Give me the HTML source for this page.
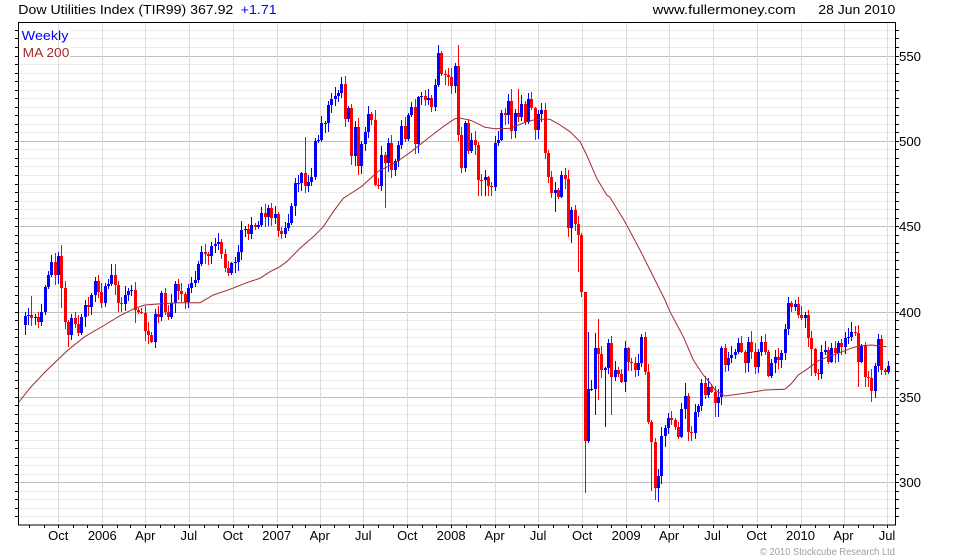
<!DOCTYPE html>
<html><head><meta charset="utf-8"><style>
html,body{margin:0;padding:0;background:#fff;}
svg{display:block;font-family:"Liberation Sans",Arial,sans-serif;}
</style></head><body>
<svg id="c" width="980" height="560" viewBox="0 0 980 560" xmlns="http://www.w3.org/2000/svg">
<rect x="0" y="0" width="980" height="560" fill="#fff"/>
<g id="hg" shape-rendering="crispEdges"></g>
<rect x="19" y="23" width="51" height="37" fill="#fff"/>
<g id="vg" shape-rendering="crispEdges"></g>
<g id="cd" shape-rendering="crispEdges"></g>
<polyline id="ma" fill="none" stroke="#a52a2a" stroke-width="1" points=""/>
<g id="ax" shape-rendering="crispEdges"></g>
<rect x="18.5" y="22.5" width="877" height="502.5" fill="none" stroke="#000" stroke-width="1" shape-rendering="crispEdges"/>
<text x="18.3" y="14" font-size="13" fill="#000" textLength="215" lengthAdjust="spacingAndGlyphs">Dow Utilities Index (TIR99) 367.92</text>
<text x="240.7" y="14" font-size="13" fill="#0000ff" textLength="36" lengthAdjust="spacingAndGlyphs">+1.71</text>
<text x="652.7" y="14" font-size="13" fill="#000" textLength="143" lengthAdjust="spacingAndGlyphs">www.fullermoney.com</text>
<text x="818.3" y="14" font-size="13" fill="#000" textLength="77" lengthAdjust="spacingAndGlyphs">28 Jun 2010</text>
<text x="21.7" y="40" font-size="13" fill="#0000ff" textLength="46.7" lengthAdjust="spacingAndGlyphs">Weekly</text>
<text x="22.7" y="57" font-size="13" fill="#a52a2a" textLength="46.7" lengthAdjust="spacingAndGlyphs">MA 200</text>
<text x="760" y="555" font-size="10" fill="#a0a0a0" textLength="135" lengthAdjust="spacingAndGlyphs">© 2010 Stockcube Research Ltd</text>
<g id="lb" font-size="13" fill="#000"></g>
</svg>
<script>
(function(){
var NS="http://www.w3.org/2000/svg";
function el(t,a,p){var e=document.createElementNS(NS,t);for(var k in a)e.setAttribute(k,a[k]);p.appendChild(e);return e;}
var hg=document.getElementById('hg'),vg=document.getElementById('vg'),cd=document.getElementById('cd'),ax=document.getElementById('ax'),lb=document.getElementById('lb');
function yg(p){return 55.5+(550-p)*1.7072;}
for(var p=275;p<=565;p+=5){
  var y=Math.round(yg(p))+0.5;
  if(y<23||y>524)continue;
  var major=(p%50===0);
  el('line',{x1:19,x2:896,y1:y,y2:y,stroke:major?'#c0c0c0':'#ebebeb','stroke-width':1},hg);
  el('line',{x1:15,x2:18,y1:y,y2:y,stroke:'#000','stroke-width':1},ax);
  el('line',{x1:896,x2:899,y1:y,y2:y,stroke:'#000','stroke-width':1},ax);
  if(major){var t=el('text',{x:899,y:Math.round(yg(p))+5,textLength:22,lengthAdjust:'spacingAndGlyphs'},lb);t.textContent=String(p);}
}
var qx=[58.3,102.3,145.3,188.8,232.7,276.7,319.7,363.2,407.2,451.1,494.6,538.1,582.1,626.1,669.1,712.6,756.5,800.5,843.5,887.0];
var ql=["Oct","2006","Apr","Jul","Oct","2007","Apr","Jul","Oct","2008","Apr","Jul","Oct","2009","Apr","Jul","Oct","2010","Apr","Jul"];
for(var i=0;i<qx.length;i++){
  var x=Math.round(qx[i])+0.5;
  el('line',{x1:x,x2:x,y1:23,y2:525,stroke:'#dcdcdc','stroke-width':1},vg);
  var t=el('text',{x:qx[i],y:540,'text-anchor':'middle'},lb);t.textContent=ql[i];
}
var base=Date.UTC(2005,9,1);
for(var yr=2005;yr<=2010;yr++){for(var m=0;m<12;m++){
  var d=(Date.UTC(yr,m,1)-base)/86400000;var x=58.3+d*0.4779;
  if(x<19||x>895)continue;x=Math.round(x)+0.5;
  el('line',{x1:x,x2:x,y1:525,y2:528,stroke:'#000','stroke-width':1},ax);
}}
var C=[396.7,397.3,395.3,395.9,393.4,399.2,413.7,420.5,428.3,420.5,
431.6,412.8,393.4,385.6,395.3,392.0,386.6,396.3,403.1,402.1,
408.9,417.0,410.8,404.1,414.1,415.3,420.5,414.7,404.1,403.7,
408.9,411.2,411.8,400.2,399.2,398.6,388.2,385.6,381.8,397.8,
396.3,410.3,399.2,395.9,404.1,415.1,411.2,409.5,405.0,412.8,
415.7,417.6,426.9,434.1,432.7,431.5,437.4,438.5,439.9,432.7,
424.4,421.5,427.3,428.3,434.1,446.7,447.1,444.4,449.6,448.6,
449.6,456.4,454.4,459.3,453.9,456.0,446.3,444.4,447.6,450.5,
460.6,473.8,474.2,479.6,472.3,474.8,477.7,498.6,499.0,508.7,
509.1,519.4,522.7,524.6,526.1,531.6,511.0,517.6,489.5,506.4,
483.7,496.7,503.5,514.1,510.8,473.0,472.1,490.1,485.6,497.3,
481.8,487.0,496.3,507.0,499.8,513.3,518.2,496.7,523.8,524.4,
522.5,523.4,518.0,531.2,549.6,537.4,537.0,535.4,530.2,541.8,
502.1,482.7,508.9,492.4,499.2,495.9,476.0,475.5,477.3,472.1,
471.5,497.3,499.2,514.7,513.7,521.5,504.0,514.5,512.6,519.9,
509.7,522.7,517.4,504.8,514.1,516.5,491.7,477.7,468.0,469.9,
466.1,478.7,476.2,447.7,458.3,450.2,443.8,410.8,324.2,354.1,
354.5,377.9,374.6,365.3,366.3,381.2,361.0,365.3,363.0,358.5,
377.9,370.1,369.2,365.3,369.6,384.3,364.3,335.3,323.6,296.5,
303.7,326.9,331.4,337.2,336.2,332.4,326.5,342.4,350.2,329.4,
328.9,341.1,344.4,357.9,350.8,355.6,352.7,345.9,349.8,378.2,
368.2,372.1,373.8,376.0,380.8,376.0,369.5,381.8,376.0,366.8,
376.0,381.8,376.0,361.8,369.2,373.0,371.1,375.0,388.9,404.4,
401.7,403.7,397.3,395.3,397.3,383.7,377.3,363.7,363.0,376.0,
376.9,370.1,377.9,375.4,381.2,378.5,383.7,384.7,387.6,387.0,
370.1,379.2,361.0,360.4,353.3,367.6,383.1,365.3,364.4,367.9];
var H={3:408.3,11:434.1,12:438,27:426.7,28:426.7,85:500.6,96:535.8,97:536.2,106:516.6,125:554,131:554.4,147:528.5,149:528.8,152:526.1,157:520.3,169:410,170:387.6,172:387,173:394.8,199:357.9,219:388.2,230:407.9,249:393,258:385.6};
var L={12:401.2,14:378.8,34:392.4,39:380.8,85:468,97:506.7,99:484.7,106:472,108:469.2,109:459.5,137:466.3,138:466.3,139:466.3,140:466.3,141:466.3,160:457.3,165:439,167:422.4,169:293.6,170:323,172:339,173:347.8,175:332.3,177:339,189:295,190:290,191:288.7,193:320.7,208:338.1,209:338.1,211:364.3,224:361.1,237:361.8,238:361.8,251:355.2,253:355.2,255:346.9};
function yd(p){return 52.3+(550-p)*1.72;}
var prev=391.5;
for(var k=0;k<C.length;k++){
  var n=k+1,o=prev,c=C[k];prev=c;
  var wh=1+((n*37)%7)*0.7, wl=1+((n*53)%9)*0.6;
  var hi=Math.max(o,c)+wh, lo=Math.min(o,c)-wl;
  if(H[n]!==undefined)hi=Math.max(H[n],Math.max(o,c));
  if(L[n]!==undefined)lo=Math.min(L[n],Math.min(o,c));
  var col=(c>=o)?'#0000ff':'#ff0000';
  var cx=Math.round(24.5+k*3.334);
  var yt=Math.round(yd(Math.max(o,c))),yb=Math.round(yd(Math.min(o,c)));
  var yh=Math.round(yd(hi)),yl=Math.round(yd(lo));
  el('rect',{x:cx,y:yh,width:1,height:Math.max(1,yl-yh),fill:col},cd);
  el('rect',{x:cx-1,y:yt,width:3,height:Math.max(1,yb-yt),fill:col},cd);
}
var MA=[[19,402],[30,388],[45,372],[68,350],[84.7,336.7],[104.7,325],[121.3,315],[134.7,308.3],[144.7,305],[158,304],[178,302.7],[188,302.7],[200,302.7],[213.3,295],[230,289.3],[246.7,282.7],[260,278.3],[270,271.7],[280,266.7],[286.7,261.7],[300,248.3],[313.3,236.7],[323.3,226.7],[333.3,211.7],[343.3,198.3],[350,194],[361.7,186.3],[378.3,171.3],[395,163],[411.7,151.3],[428.3,138],[445,125.3],[455,118.7],[460,118],[471.7,120.7],[485,127.3],[495,128.7],[510,128.3],[526.7,121.7],[536.7,119.3],[550,119.3],[560,125],[570,131.7],[580,141.7],[586.7,155],[596.7,178.3],[606.7,195],[610,197.3],[625,222],[640,250],[652,274],[665,300],[670,311.7],[683.3,336.7],[693.3,360],[703.3,375],[710,382.7],[715,390],[725,396],[748.3,392.7],[765,390],[785,389.3],[791.7,383.3],[798.3,375],[808.3,368.3],[818.3,360.7],[828.3,356.7],[838.3,353.3],[848.3,349.3],[858.3,346],[871.7,345],[886.7,346.7]];
document.getElementById('ma').setAttribute('points',MA.map(function(a){return a[0]+','+a[1];}).join(' '));
})();
</script>
</body></html>
